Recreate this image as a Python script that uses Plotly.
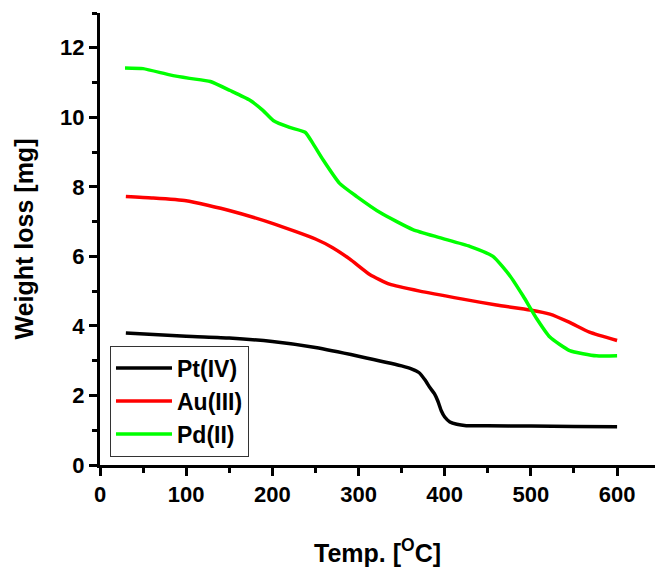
import plotly.graph_objects as go

# Thermogravimetric curves: temperature (°C) vs weight loss (mg)
pt_temp = [30, 100, 150, 200, 250, 300, 350, 362, 370, 377, 383, 388, 392, 396, 400, 406, 414, 425, 450, 500, 550, 600]
pt_loss = [3.80, 3.70, 3.65, 3.55, 3.38, 3.13, 2.85, 2.76, 2.66, 2.45, 2.22, 2.05, 1.84, 1.56, 1.38, 1.24, 1.17, 1.13, 1.13, 1.12, 1.11, 1.10]

au_temp = [30, 60, 100, 150, 200, 250, 270, 290, 313, 336, 371, 421, 460, 499, 522, 545, 568, 600]
au_loss = [7.72, 7.68, 7.60, 7.32, 6.95, 6.50, 6.25, 5.92, 5.48, 5.20, 5.00, 4.77, 4.60, 4.46, 4.34, 4.10, 3.82, 3.58]

pd_temp = [29, 50, 81, 104, 128, 151, 174, 189, 201, 220, 238, 247, 259, 278, 298, 325, 363, 394, 429, 456, 476, 491, 507, 522, 545, 576, 600]
pd_loss = [11.42, 11.40, 11.22, 11.12, 11.03, 10.77, 10.49, 10.20, 9.91, 9.71, 9.57, 9.25, 8.77, 8.10, 7.72, 7.26, 6.77, 6.54, 6.29, 6.00, 5.43, 4.86, 4.20, 3.68, 3.29, 3.14, 3.14]

series = [
    ("Pt(IV)", pt_temp, pt_loss, "#000000"),
    ("Au(III)", au_temp, au_loss, "#ff0000"),
    ("Pd(II)", pd_temp, pd_loss, "#00ff00"),
]

FONT = "Liberation Sans, Arial, sans-serif"

fig = go.Figure()
for name, x, y, color in series:
    fig.add_trace(go.Scatter(
        x=x, y=y, name=name, mode="lines",
        line=dict(color=color, width=3.5, shape="spline", smoothing=0.5),
    ))

axis_common = dict(
    showline=True, linecolor="black", linewidth=3,
    ticks="outside", ticklen=8, tickwidth=3, tickcolor="black",
    showgrid=False, zeroline=False, mirror=False,
    tickfont=dict(family=FONT, size=22, color="black", weight="bold"),
)

fig.update_layout(
    width=655, height=567,
    margin=dict(l=100, r=0, t=13, b=100),
    paper_bgcolor="white", plot_bgcolor="white",
    showlegend=True,
    legend=dict(
        x=0.018, y=0.264, xanchor="left", yanchor="top",
        bgcolor="white", bordercolor="#333333", borderwidth=1,
        font=dict(family=FONT, size=23, color="black", weight="bold"),
        tracegroupgap=0, itemwidth=56, entrywidth=156,
    ),
    xaxis=dict(
        range=[0, 644], tickvals=[0, 100, 200, 300, 400, 500, 600],
        minor=dict(tickvals=[50, 150, 250, 350, 450, 550], ticklen=5, tickwidth=3, tickcolor="black", ticks="outside"),
        title=dict(text="Temp. [<sup>O</sup>C]", standoff=42,
                   font=dict(family=FONT, size=25, color="black", weight="bold")),
        **axis_common,
    ),
    yaxis=dict(
        range=[0, 13], tickvals=[0, 2, 4, 6, 8, 10, 12],
        minor=dict(tickvals=[1, 3, 5, 7, 9, 11, 13], ticklen=5, tickwidth=3, tickcolor="black", ticks="outside"),
        title=dict(text="Weight loss [mg]", standoff=20,
                   font=dict(family=FONT, size=25, color="black", weight="bold")),
        **axis_common,
    ),
)

fig.write_html("out.html")
